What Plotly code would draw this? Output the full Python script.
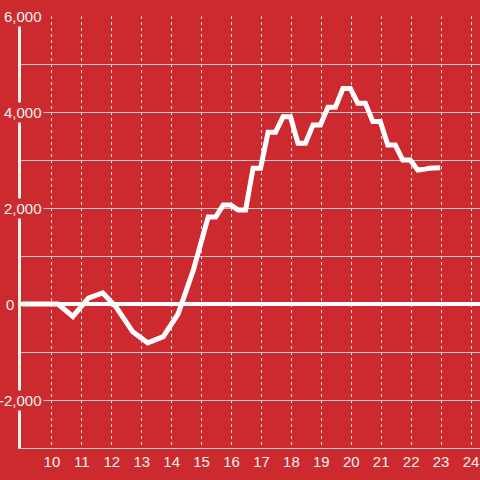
import plotly.graph_objects as go

# data
hours = [9.0, 10.2, 10.7, 11.22, 11.7, 12.15, 12.7, 13.2, 13.72, 14.22, 14.72,
         15.22, 15.47, 15.72, 15.97, 16.22, 16.47, 16.72, 16.97, 17.22, 17.47,
         17.72, 17.97, 18.22, 18.47, 18.72, 18.97, 19.22, 19.47, 19.72, 19.97,
         20.22, 20.47, 20.72, 20.97, 21.22, 21.47, 21.72, 21.97, 22.22, 22.47,
         22.6, 22.97]
values = [0, 0, -260, 120, 230, -70, -580, -810, -680, -200, 700,
          1810, 1810, 2060, 2060, 1960, 1960, 2830, 2830, 3580, 3580,
          3900, 3900, 3350, 3350, 3730, 3730, 4100, 4100, 4490, 4490,
          4180, 4180, 3800, 3800, 3310, 3310, 3000, 3000, 2790, 2810,
          2830, 2840]
x_ticks = list(range(10, 25))
y_label_values = [6000, 4000, 2000, 0, -2000]
y_label_texts = ["6,000", "4,000", "2,000", "0", "-2,000"]

RED = "#cc2a2f"
TXT = "#f2f2f2"
FONT = "Liberation Sans, Arial, sans-serif"

fig = go.Figure()
fig.add_trace(go.Scatter(
    x=hours, y=values, mode="lines",
    line=dict(color="white", width=5),
    hoverinfo="skip", showlegend=False,
))

annotations = []
for v, t in zip(y_label_values, y_label_texts):
    shift = 23 if v != 0 else -5
    annotations.append(dict(
        x=0, xref="paper", y=v, yref="y", text=t, showarrow=False,
        xanchor="right", yanchor="middle", xshift=shift,
        font=dict(family=FONT, size=15, color=TXT),
        bgcolor=RED, borderpad=1,
    ))

fig.update_layout(
    width=480, height=480,
    margin=dict(l=21, r=0, t=16, b=32, autoexpand=False),
    paper_bgcolor=RED, plot_bgcolor=RED,
    font=dict(family=FONT, size=15, color=TXT),
    showlegend=False,
    annotations=annotations,
    xaxis=dict(
        range=[8.967, 24.3], tickmode="array", tickvals=x_ticks,
        ticktext=[str(t) for t in x_ticks], automargin=False,
        showgrid=True, gridcolor="#e0e0e0", gridwidth=1, griddash="3px,3px",
        zeroline=False, showline=True, linecolor="#cccccc", linewidth=1,
        ticks="", tickfont=dict(family=FONT, size=15, color=TXT),
    ),
    yaxis=dict(
        range=[-3000, 6000], dtick=1000, tick0=0, automargin=False,
        showgrid=True, gridcolor="#cccccc", gridwidth=1,
        zeroline=True, zerolinecolor="white", zerolinewidth=4,
        showline=True, linecolor="#f0f0f0", linewidth=3,
        showticklabels=False, ticks="",
    ),
)

fig.write_html(
    "out.html",
    config={"displayModeBar": False, "staticPlot": True},
    post_script="document.body.style.margin='0';document.body.style.background='" + RED + "';",
)
